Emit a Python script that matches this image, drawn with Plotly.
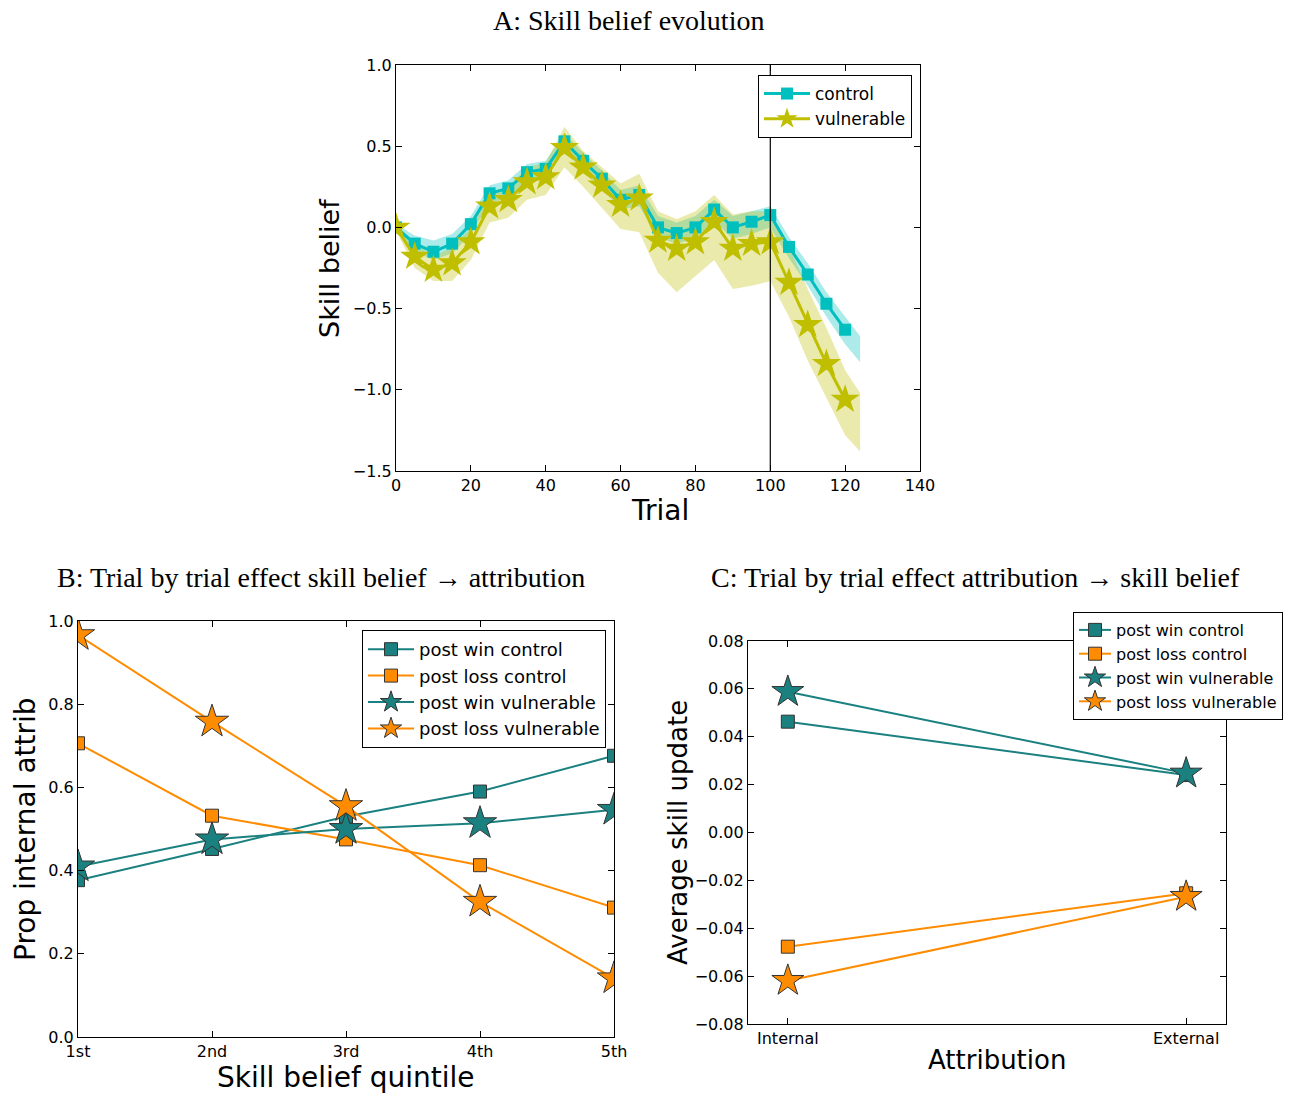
import plotly.graph_objects as go

# ---------------- Panel A data ----------------
trial = [0, 5, 10, 15, 20, 25, 30, 35, 40, 45, 50, 55, 60, 65, 70, 75, 80, 85, 90, 95, 100, 105, 110, 115, 120]
control_belief = [0.0, -0.10, -0.15, -0.10, 0.02, 0.21, 0.24, 0.34, 0.36, 0.53, 0.41, 0.30, 0.17, 0.20,
                  0.0, -0.035, 0.0, 0.11, 0.0, 0.035, 0.076, -0.12, -0.29, -0.47, -0.63]
vulnerable_belief = [0.0, -0.18, -0.26, -0.22, -0.09, 0.13, 0.17, 0.28, 0.31, 0.49, 0.37, 0.26, 0.14, 0.18,
                     -0.08, -0.13, -0.09, 0.035, -0.13, -0.10, -0.09, -0.34, -0.60, -0.84, -1.06]
band_trial = [0, 5, 10, 15, 20, 25, 30, 35, 40, 45, 50, 55, 60, 65, 70, 75, 80, 85, 90, 95, 100, 105, 110, 115, 120, 124]
control_upper = [0.02, -0.05, -0.08, -0.04, 0.07, 0.26, 0.29, 0.39, 0.41, 0.58, 0.46, 0.35, 0.23, 0.26,
                 0.07, 0.03, 0.07, 0.17, 0.07, 0.10, 0.13, -0.06, -0.22, -0.40, -0.55, -0.67]
control_lower = [-0.02, -0.15, -0.20, -0.16, -0.04, 0.15, 0.18, 0.28, 0.30, 0.47, 0.35, 0.24, 0.11, 0.13,
                 -0.06, -0.10, -0.07, 0.04, -0.07, -0.04, 0.0, -0.19, -0.36, -0.55, -0.72, -0.83]
vulnerable_upper = [0.02, -0.10, -0.18, -0.12, 0.0, 0.22, 0.25, 0.37, 0.40, 0.62, 0.47, 0.37, 0.27, 0.33,
                    0.10, 0.05, 0.10, 0.20, 0.08, 0.10, 0.10, -0.12, -0.38, -0.62, -0.88, -1.02]
vulnerable_lower = [-0.02, -0.25, -0.33, -0.33, -0.20, 0.03, 0.06, 0.17, 0.20, 0.37, 0.25, 0.12, -0.01, -0.03,
                    -0.28, -0.40, -0.30, -0.20, -0.38, -0.36, -0.33, -0.55, -0.82, -1.05, -1.28, -1.38]
switch_trial = 100

# ---------------- Panel B data ----------------
quintiles = ["1st", "2nd", "3rd", "4th", "5th"]
b_win_control = [0.377, 0.452, 0.530, 0.590, 0.676]
b_loss_control = [0.706, 0.532, 0.475, 0.413, 0.311]
b_win_vulnerable = [0.410, 0.475, 0.500, 0.514, 0.546]
b_loss_vulnerable = [0.966, 0.758, 0.555, 0.325, 0.141]

# ---------------- Panel C data ----------------
attributions = ["Internal", "External"]
c_win_control = [0.0463, 0.0240]
c_loss_control = [-0.0477, -0.0254]
c_win_vulnerable = [0.0588, 0.0247]
c_loss_vulnerable = [-0.0619, -0.0268]

W, H = 1292, 1093
FONT = "DejaVu Sans"
SERIF = "Liberation Serif"
CYAN = "#00BFBF"
OLIVE = "#BFBF00"
TEAL = "#1A8080"
ORANGE = "#FF8C00"
EDGE = "#333333"


def px_x(p):
    return p / W


def px_y(p):
    return 1 - p / H


fig = go.Figure()

# Panel A bands
fig.add_trace(go.Scatter(x=band_trial + band_trial[::-1], y=control_upper + control_lower[::-1],
                         fill="toself", fillcolor="rgba(0,191,191,0.32)", line=dict(width=0),
                         mode="lines", showlegend=False, hoverinfo="skip", xaxis="x", yaxis="y"))
fig.add_trace(go.Scatter(x=band_trial + band_trial[::-1], y=vulnerable_upper + vulnerable_lower[::-1],
                         fill="toself", fillcolor="rgba(191,191,0,0.32)", line=dict(width=0),
                         mode="lines", showlegend=False, hoverinfo="skip", xaxis="x", yaxis="y"))
fig.add_trace(go.Scatter(x=trial, y=control_belief, name="control", mode="lines+markers",
                         line=dict(color=CYAN, width=3),
                         marker=dict(symbol="square", size=12, color=CYAN, line=dict(width=0)),
                         xaxis="x", yaxis="y", legend="legend"))
fig.add_trace(go.Scatter(x=trial, y=vulnerable_belief, name="vulnerable", mode="lines+markers",
                         line=dict(color=OLIVE, width=3),
                         marker=dict(symbol="star", size=22, color=OLIVE, line=dict(width=0)),
                         xaxis="x", yaxis="y", legend="legend"))

# Panel B
qx = list(range(len(quintiles)))
for name, vals, color, sym, size in [
    ("post win control", b_win_control, TEAL, "square", 13),
    ("post loss control", b_loss_control, ORANGE, "square", 13),
    ("post win vulnerable", b_win_vulnerable, TEAL, "star", 25),
    ("post loss vulnerable", b_loss_vulnerable, ORANGE, "star", 25),
]:
    fig.add_trace(go.Scatter(x=qx, y=vals, name=name, mode="lines+markers",
                             line=dict(color=color, width=2),
                             marker=dict(symbol=sym, size=size, color=color, line=dict(color=EDGE, width=1)),
                             xaxis="x2", yaxis="y2", legend="legend2"))

# Panel C
cx = list(range(len(attributions)))
for name, vals, color, sym, size in [
    ("post win control", c_win_control, TEAL, "square", 13),
    ("post loss control", c_loss_control, ORANGE, "square", 13),
    ("post win vulnerable", c_win_vulnerable, TEAL, "star", 24),
    ("post loss vulnerable", c_loss_vulnerable, ORANGE, "star", 24),
]:
    fig.add_trace(go.Scatter(x=cx, y=vals, name=name, mode="lines+markers",
                             line=dict(color=color, width=2),
                             marker=dict(symbol=sym, size=size, color=color, line=dict(color=EDGE, width=1)),
                             xaxis="x3", yaxis="y3", legend="legend3"))

axis_common = dict(showline=True, linecolor="black", linewidth=1.2, mirror="allticks",
                   ticks="inside", ticklen=6, tickwidth=1, tickcolor="black", automargin=False,
                   showgrid=False, zeroline=False, tickfont=dict(family=FONT, size=16, color="black"))

legend_common = dict(bgcolor="white", bordercolor="black", borderwidth=1,
                     xanchor="right", yanchor="top", tracegroupgap=0)

fig.update_layout(
    width=W, height=H, margin=dict(l=0, r=0, t=0, b=0, pad=0, autoexpand=False),
    paper_bgcolor="white", plot_bgcolor="white",
    font=dict(family=FONT, color="black"),
    xaxis=dict(domain=[px_x(396), px_x(920)], range=[0, 140], tickvals=list(range(0, 141, 20)),
               anchor="y", **axis_common),
    yaxis=dict(domain=[px_y(471), px_y(65)], range=[-1.5, 1.0], tickvals=[-1.5, -1.0, -0.5, 0.0, 0.5, 1.0],
               tickformat=".1f", anchor="x", **axis_common),
    xaxis2=dict(domain=[px_x(78), px_x(614)], range=[0, 4], tickvals=qx, ticktext=quintiles,
                anchor="y2", **axis_common),
    yaxis2=dict(domain=[px_y(1037), px_y(621)], range=[0, 1.0], tickvals=[0, 0.2, 0.4, 0.6, 0.8, 1.0],
                tickformat=".1f", anchor="x2", **axis_common),
    xaxis3=dict(domain=[px_x(748), px_x(1226)], range=[-0.1, 1.1], tickvals=cx, ticktext=attributions,
                anchor="y3", **axis_common),
    yaxis3=dict(domain=[px_y(1024), px_y(641)], range=[-0.08, 0.08],
                tickvals=[-0.08, -0.06, -0.04, -0.02, 0.0, 0.02, 0.04, 0.06, 0.08],
                tickformat=".2f", anchor="x3", **axis_common),
    legend=dict(x=px_x(912), y=px_y(75), itemwidth=46,
                font=dict(family=FONT, size=17, color="black"), **legend_common),
    legend2=dict(x=px_x(606), y=px_y(630), itemwidth=46,
                 font=dict(family=FONT, size=18, color="black"), **legend_common),
    legend3=dict(x=px_x(1283), y=px_y(612), itemwidth=32,
                 font=dict(family=FONT, size=16, color="black"), **legend_common),
    showlegend=True,
)

# vertical line at the switch trial
fig.add_shape(type="line", x0=switch_trial, x1=switch_trial, y0=0, y1=1, xref="x", yref="y domain",
              line=dict(color="black", width=1.2))

# Titles
titles = [
    ("A: Skill belief evolution", 628, 21),
    ("B: Trial by trial effect skill belief \u2192 attribution", 321, 577),
    ("C: Trial by trial effect attribution \u2192 skill belief", 975, 577),
]
for text, x, y in titles:
    fig.add_annotation(text=text, x=px_x(x), y=px_y(y), xref="paper", yref="paper",
                       showarrow=False, xanchor="center", yanchor="middle",
                       font=dict(family=SERIF, size=28, color="black"))

# Axis labels
labels = [
    ("Trial", 660, 511, 0, 28),
    ("Skill belief", 330, 268, -90, 27),
    ("Skill belief quintile", 346, 1077, 0, 28),
    ("Prop internal attrib", 25, 829, -90, 28),
    ("Attribution", 997, 1060, 0, 26),
    ("Average skill update", 678, 832, -90, 26),
]
for text, x, y, ang, size in labels:
    fig.add_annotation(text=text, x=px_x(x), y=px_y(y), xref="paper", yref="paper",
                       showarrow=False, xanchor="center", yanchor="middle", textangle=ang,
                       font=dict(family=FONT, size=size, color="black"))

fig.write_html("out.html")
